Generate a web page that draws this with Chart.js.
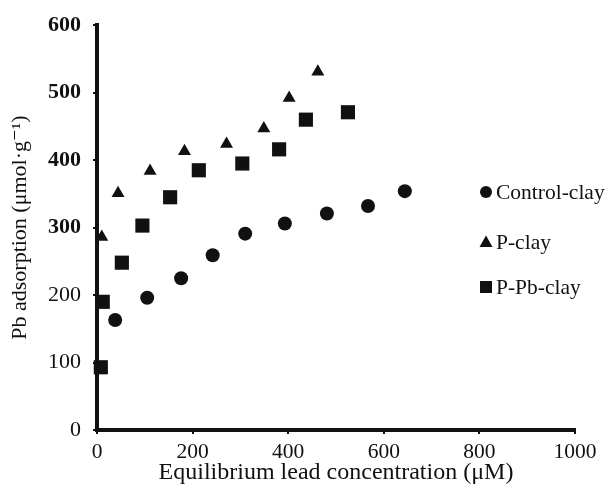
<!DOCTYPE html>
<html>
<head>
<meta charset="utf-8">
<script src="https://cdn.jsdelivr.net/npm/chart.js@4/dist/chart.umd.min.js"></script>
<style>
  html, body { margin: 0; padding: 0; background: #fff; }
  #wrap { width: 613px; height: 497px; }
</style>
</head>
<body>
<div id="wrap"><canvas id="pbChart" width="613" height="497"></canvas></div>
<script>
// Pb adsorption isotherms
const seriesNames = ['Control-clay', 'P-clay', 'P-Pb-clay'];

const controlX = [38, 105, 176, 242, 310, 393, 481, 567, 644];
const controlY = [163, 196, 225, 259, 291, 306, 321, 332, 354];

const pClayX = [10, 44, 111, 183, 271, 349, 402, 462];
const pClayY = [286, 351, 384, 413, 424, 447, 492, 531];

const ppbX = [8, 12, 52, 95, 153, 213, 304, 381, 437, 525];
const ppbY = [93, 190, 248, 303, 345, 385, 395, 416, 460, 471];

const xTicks = [0, 200, 400, 600, 800, 1000];
const yTicks = [0, 100, 200, 300, 400, 500, 600];

const ink = '#111';
const serif = "'Liberation Serif', 'DejaVu Serif', serif";

function toPoints(xs, ys) {
    return xs.map((x, i) => ({ x: x, y: ys[i] }));
}

// legend drawn inside the plot, to the right of the data
const innerLegend = {
    id: 'innerLegend',
    afterDraw(chart) {
        const ctx = chart.ctx;
        const rows = [192, 242, 287];
        ctx.save();
        ctx.fillStyle = ink;
        ctx.font = '21.5px ' + serif;
        ctx.textBaseline = 'middle';
        chart.data.datasets.forEach((ds, i) => {
            const y = rows[i];
            const x = 486;
            ctx.beginPath();
            if (ds.pointStyle === 'circle') {
                ctx.arc(x, y, 6, 0, Math.PI * 2);
            } else if (ds.pointStyle === 'triangle') {
                ctx.moveTo(x, y - 6.5);
                ctx.lineTo(x + 6.5, y + 5);
                ctx.lineTo(x - 6.5, y + 5);
                ctx.closePath();
            } else {
                ctx.rect(x - 6, y - 6, 12, 12);
            }
            ctx.fill();
            ctx.fillText(ds.label, 496, y + 1);
        });
        ctx.restore();
    }
};

const pbCtx = document.getElementById('pbChart').getContext('2d');

new Chart(pbCtx, {
    type: 'scatter',
    data: {
        datasets: [
            {
                label: seriesNames[0],
                data: toPoints(controlX, controlY),
                pointStyle: 'circle',
                pointRadius: 7,
                backgroundColor: ink,
                borderWidth: 0
            },
            {
                label: seriesNames[1],
                data: toPoints(pClayX, pClayY),
                pointStyle: 'triangle',
                pointRadius: 7.5,
                backgroundColor: ink,
                borderWidth: 0
            },
            {
                label: seriesNames[2],
                data: toPoints(ppbX, ppbY),
                pointStyle: 'rect',
                pointRadius: 10,
                backgroundColor: ink,
                borderWidth: 0
            }
        ]
    },
    options: {
        responsive: false,
        animation: false,
        clip: false,
        layout: { padding: { top: 23, right: 38, left: 0, bottom: 0 } },
        plugins: {
            legend: { display: false },
            tooltip: { enabled: false }
        },
        scales: {
            x: {
                type: 'linear',
                min: 0,
                max: 1000,
                afterFit: (scale) => { scale.height = 67; },
                afterBuildTicks: (scale) => { scale.ticks = xTicks.map(v => ({ value: v })); },
                border: { display: true, color: ink, width: 4 },
                grid: { drawOnChartArea: false, drawTicks: true, tickLength: 4, color: ink, lineWidth: 2 },
                ticks: {
                    color: ink,
                    font: { family: serif, size: 21.5 },
                    padding: 5,
                    maxRotation: 0,
                    callback: (v) => String(v)
                },
                title: {
                    display: true,
                    text: 'Equilibrium lead concentration (μM)',
                    color: ink,
                    font: { family: serif, size: 24 },
                    padding: { top: 0, bottom: 10 }
                }
            },
            y: {
                type: 'linear',
                min: 0,
                max: 600,
                afterFit: (scale) => { scale.width = 97; },
                afterBuildTicks: (scale) => { scale.ticks = yTicks.map(v => ({ value: v })); },
                border: { display: true, color: ink, width: 4 },
                grid: { drawOnChartArea: false, drawTicks: true, tickLength: 4, color: ink, lineWidth: 2 },
                ticks: {
                    color: ink,
                    // the upper labels print heavier in the original
                    font: (c) => ({ family: serif, size: 22, weight: c.tick && c.tick.value >= 300 ? 'bold' : 'normal' }),
                    padding: 12,
                    callback: (v) => String(v)
                },
                title: {
                    display: true,
                    text: 'Pb adsorption (μmol·g⁻¹)',
                    color: ink,
                    font: { family: serif, size: 22 },
                    padding: { top: 7, bottom: 0 }
                }
            }
        }
    },
    plugins: [innerLegend]
});
</script>
</body>
</html>
